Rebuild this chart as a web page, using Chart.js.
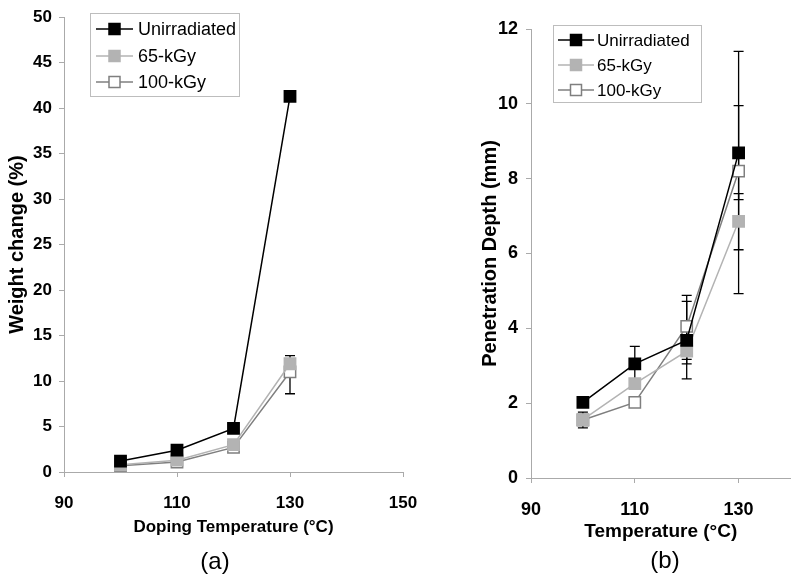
<!DOCTYPE html>
<html>
<head>
<meta charset="utf-8">
<script src="https://cdn.jsdelivr.net/npm/chart.js@4.4.0/dist/chart.umd.min.js"></script>
<style>
  body { margin: 0; background: #fff; }
  #wrapA { position: absolute; left: 0; top: 0; width: 420px; height: 581px; }
  #wrapB { position: absolute; left: 420px; top: 0; width: 380px; height: 581px; }
</style>
</head>
<body>
<div id="wrapA"><canvas id="chartA"></canvas></div>
<div id="wrapB"><canvas id="chartB"></canvas></div>
<script>
// data
const temps = [100, 110, 120, 130];
const seriesNames = ['Unirradiated', '65-kGy', '100-kGy'];

// (a) weight change (%)
const weightUnirr = [1.2, 2.4, 4.8, 41.3];
const weight65 = [0.8, 1.3, 3.0, 11.9];
const weight100 = [0.7, 1.1, 2.7, 11.0];
const weight100Lo = [null, null, null, 8.6];
const weight100Hi = [null, null, null, 12.8];

// (b) penetration depth (mm)
const depthUnirr = [2.02, 3.05, 3.68, 8.69];
const depthUnirrLo = [null, 2.6, 2.65, 6.1];
const depthUnirrHi = [null, 3.52, 4.72, 11.4];
const depth65 = [1.56, 2.52, 3.39, 6.86];
const depth65Lo = [1.34, null, 3.05, 4.93];
const depth65Hi = [1.76, null, 3.7, 7.6];
const depth100 = [1.55, 2.02, 4.05, 8.2];
const depth100Lo = [1.45, 1.98, 3.17, 7.44];
const depth100Hi = [1.65, 2.06, 4.88, 9.95];

// tick labels
const xTicksA = [90, 110, 130, 150];
const yTicksA = [0, 5, 10, 15, 20, 25, 30, 35, 40, 45, 50];
const xTicksB = [90, 110, 130];
const xMaxB = 140;
const yTicksB = [0, 2, 4, 6, 8, 10, 12];

Chart.defaults.font.family = '"Liberation Sans", Arial, sans-serif';
Chart.defaults.color = '#000';

const styles = [
  { border: '#000000', fill: '#000000' },
  { border: '#b3b3b3', fill: '#b3b3b3' },
  { border: '#7f7f7f', fill: '#ffffff' }
];

function makeDataset(i, values, lo, hi) {
  return {
    label: seriesNames[i],
    data: temps.map((t, k) => ({ x: t, y: values[k] })),
    errLo: lo, errHi: hi,
    borderColor: styles[i].border,
    backgroundColor: styles[i].fill,
    borderWidth: 1.5,
    pointStyle: 'rect',
    pointRadius: 8,
    pointBorderWidth: 1.5,
    pointBackgroundColor: styles[i].fill,
    pointBorderColor: styles[i].border,
    tension: 0,
    fill: false
  };
}

const errorBars = {
  id: 'errorBars',
  beforeDatasetsDraw(chart) {
    const { ctx } = chart;
    const x = chart.scales.x, y = chart.scales.y;
    ctx.save();
    ctx.strokeStyle = '#000';
    ctx.lineWidth = 1.3;
    chart.data.datasets.forEach(ds => {
      if (!ds.errLo) return;
      ds.data.forEach((p, i) => {
        const lo = ds.errLo[i], hi = ds.errHi[i];
        if (lo == null || hi == null) return;
        const px = x.getPixelForValue(p.x);
        const y1 = y.getPixelForValue(lo), y2 = y.getPixelForValue(hi);
        ctx.beginPath();
        ctx.moveTo(px, y1); ctx.lineTo(px, y2);
        ctx.moveTo(px - 5, y1); ctx.lineTo(px + 5, y1);
        ctx.moveTo(px - 5, y2); ctx.lineTo(px + 5, y2);
        ctx.stroke();
      });
    });
    ctx.restore();
  }
};

// framed legend with line+marker samples, and the panel letter
const boxLegend = {
  id: 'boxLegend',
  afterDraw(chart, args, o) {
    const { ctx } = chart;
    ctx.save();
    ctx.strokeStyle = '#bdbdbd';
    ctx.lineWidth = 1;
    ctx.strokeRect(o.box[0] + 0.5, o.box[1] + 0.5, o.box[2], o.box[3]);
    chart.data.datasets.forEach((ds, i) => {
      const ry = o.rows[i];
      ctx.strokeStyle = ds.borderColor;
      ctx.lineWidth = 1.5;
      ctx.beginPath();
      ctx.moveTo(o.line[0], ry); ctx.lineTo(o.line[1], ry);
      ctx.stroke();
      const mx = (o.line[0] + o.line[1]) / 2, s = 11;
      ctx.fillStyle = ds.backgroundColor;
      ctx.fillRect(mx - s / 2, ry - s / 2, s, s);
      ctx.strokeRect(mx - s / 2, ry - s / 2, s, s);
      ctx.fillStyle = '#000';
      ctx.font = o.fontSize + 'px "Liberation Sans", Arial, sans-serif';
      ctx.textBaseline = 'middle';
      ctx.textAlign = 'left';
      ctx.fillText(ds.label, o.textX, ry + 1);
    });
    ctx.font = '24px "Liberation Sans", Arial, sans-serif';
    ctx.textAlign = 'center';
    ctx.textBaseline = 'middle';
    ctx.fillStyle = '#000';
    ctx.fillText(o.panel[0], o.panel[1], o.panel[2]);
    ctx.restore();
  }
};

function axisGrid() {
  return { drawOnChartArea: false, color: '#aaaaaa', tickLength: 5, lineWidth: 1 };
}

const chartA = new Chart(document.getElementById('chartA').getContext('2d'), {
  type: 'line',
  data: {
    datasets: [
      makeDataset(0, weightUnirr, null, null),
      makeDataset(1, weight65, null, null),
      makeDataset(2, weight100, weight100Lo, weight100Hi)
    ]
  },
  plugins: [errorBars, boxLegend],
  options: {
    responsive: true,
    maintainAspectRatio: false,
    animation: false,
    layout: { padding: { left: 0, right: 17, top: 15, bottom: 0 } },
    plugins: {
      legend: { display: false },
      tooltip: { enabled: false },
      boxLegend: {
        box: [90, 13, 149, 83], rows: [29, 56, 82], line: [96, 133], textX: 138,
        fontSize: 18, panel: ['(a)', 215, 562]
      }
    },
    scales: {
      x: {
        type: 'linear', min: 90, max: 150,
        afterBuildTicks: s => { s.ticks = xTicksA.map(v => ({ value: v })); },
        // the last label may overhang into the right margin
        afterFit: s => { s.height = 109; s.paddingRight = 14; },
        grid: axisGrid(),
        border: { color: '#aaaaaa' },
        ticks: { font: { size: 17, weight: 'bold' }, padding: 16, maxRotation: 0, autoSkip: false },
        title: { display: true, text: 'Doping Temperature (°C)', font: { size: 17, weight: 'bold' }, padding: { top: 0, bottom: 43 } }
      },
      y: {
        min: 0, max: 50,
        afterBuildTicks: s => { s.ticks = yTicksA.map(v => ({ value: v })); },
        afterFit: s => { s.width = 64; },
        grid: axisGrid(),
        border: { color: '#aaaaaa' },
        ticks: { font: { size: 17, weight: 'bold' }, padding: 7, autoSkip: false },
        title: { display: true, text: 'Weight change (%)', font: { size: 20, weight: 'bold' }, padding: { top: 5, bottom: 0 } }
      }
    }
  }
});

const chartB = new Chart(document.getElementById('chartB').getContext('2d'), {
  type: 'line',
  data: {
    datasets: [
      makeDataset(0, depthUnirr, depthUnirrLo, depthUnirrHi),
      makeDataset(1, depth65, depth65Lo, depth65Hi),
      makeDataset(2, depth100, depth100Lo, depth100Hi)
    ]
  },
  plugins: [errorBars, boxLegend],
  options: {
    responsive: true,
    maintainAspectRatio: false,
    animation: false,
    layout: { padding: { left: 0, right: 7, top: 29, bottom: 0 } },
    plugins: {
      legend: { display: false },
      tooltip: { enabled: false },
      boxLegend: {
        box: [133, 25, 148, 77], rows: [40, 65, 90], line: [138, 174], textX: 177,
        fontSize: 17, panel: ['(b)', 245, 561]
      }
    },
    scales: {
      x: {
        type: 'linear', min: 90, max: xMaxB,
        afterBuildTicks: s => { s.ticks = xTicksB.map(v => ({ value: v })); },
        afterFit: s => { s.height = 103; },
        grid: axisGrid(),
        border: { color: '#aaaaaa' },
        ticks: { font: { size: 18, weight: 'bold' }, padding: 16, maxRotation: 0, autoSkip: false },
        title: { display: true, text: 'Temperature (°C)', font: { size: 19, weight: 'bold' }, padding: { top: 0, bottom: 38 } }
      },
      y: {
        min: 0, max: 12,
        afterBuildTicks: s => { s.ticks = yTicksB.map(v => ({ value: v })); },
        afterFit: s => { s.width = 111; },
        grid: axisGrid(),
        border: { color: '#aaaaaa' },
        ticks: { font: { size: 18, weight: 'bold' }, padding: 8, autoSkip: false },
        title: { display: true, text: 'Penetration Depth (mm)', font: { size: 20, weight: 'bold' }, padding: { top: 58, bottom: 0 } }
      }
    }
  }
});
</script>
</body>
</html>
